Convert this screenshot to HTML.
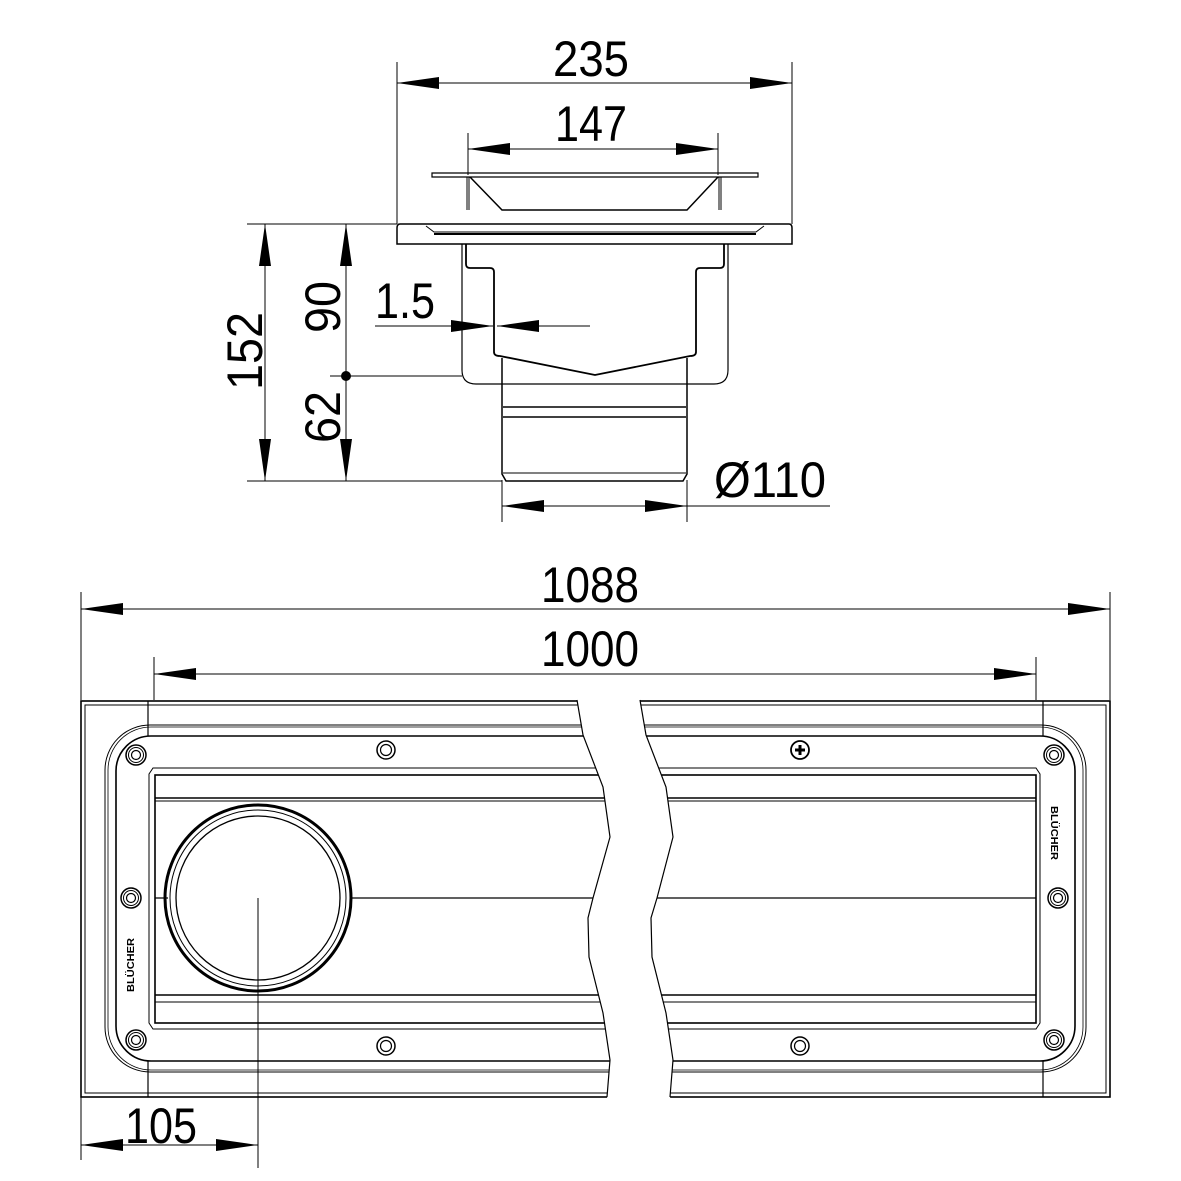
<!DOCTYPE html>
<html><head><meta charset="utf-8"><style>html,body{margin:0;padding:0;background:#fff}svg{display:block}</style></head>
<body>
<svg width="1181" height="1181" viewBox="0 0 1181 1181" xmlns="http://www.w3.org/2000/svg">
<defs>
<g id="scr"><circle r="9" fill="none" stroke="#000" stroke-width="1.5"/><circle r="5.5" fill="none" stroke="#000" stroke-width="1.2"/></g>
<g id="scr3"><circle r="10" fill="none" stroke="#000" stroke-width="1.5"/><circle r="7.5" fill="none" stroke="#000" stroke-width="1"/><circle r="4.5" fill="none" stroke="#000" stroke-width="1.2"/></g>
</defs>
<g font-family="Liberation Sans, sans-serif" font-size="50" fill="#000">
<text x="553" y="76" textLength="76" lengthAdjust="spacingAndGlyphs">235</text>
<text x="555" y="141" textLength="72" lengthAdjust="spacingAndGlyphs">147</text>
<text x="375" y="318" textLength="60" lengthAdjust="spacingAndGlyphs">1.5</text>
<text x="714" y="497" textLength="112" lengthAdjust="spacingAndGlyphs">Ø110</text>
<text x="541" y="602" textLength="98" lengthAdjust="spacingAndGlyphs">1088</text>
<text x="541" y="666" textLength="98" lengthAdjust="spacingAndGlyphs">1000</text>
<text x="125" y="1143" textLength="72" lengthAdjust="spacingAndGlyphs">105</text>
<text transform="translate(262,390) rotate(-90)" textLength="78" lengthAdjust="spacingAndGlyphs">152</text>
<text transform="translate(340,333) rotate(-90)" textLength="52" lengthAdjust="spacingAndGlyphs">90</text>
<text transform="translate(340,443) rotate(-90)" textLength="52" lengthAdjust="spacingAndGlyphs">62</text>
</g>
<g stroke="#000" stroke-width="1" fill="none">
<!-- dimension lines -->
<path d="M397 62V224M792 62V224M397 83H792"/>
<path d="M468 133V175M718 133V175M468 149H718"/>
<path d="M247 224H397M247 481H502M265 224V481M346 224V481M330 376H462"/>
<path d="M375 326H493M497 326H590"/>
<path d="M502 480V522M687 480V522M502 506H830"/>
<path d="M81 592V700M1110 592V700M81 609H1110"/>
<path d="M154 657V700M1036 657V700M154 674H1036"/>
<path d="M81 1097V1160M258 898V1168M81 1145H258"/>
</g>
<g fill="#000">
<path d="M397 83l42-6v12z M792 83l-42-6v12z"/>
<path d="M468 149l42-6v12z M718 149l-42-6v12z"/>
<path d="M265 224l-6 42h12z M265 481l-6-42h12z"/>
<path d="M346 224l-6 42h12z M346 481l-6-42h12z"/>
<circle cx="346" cy="376" r="5"/>
<path d="M493 326l-42-6v12z M497 326l42-6v12z"/>
<path d="M502 506l42-6v12z M687 506l-42-6v12z"/>
<path d="M81 609l42-6v12z M1110 609l-42-6v12z"/>
<path d="M154 674l42-6v12z M1036 674l-42-6v12z"/>
<path d="M81 1145l42-6v12z M258 1145l-42-6v12z"/>
</g>
<!-- top view -->
<g stroke="#000" stroke-width="1.5" fill="none">
<path d="M432 173H758V177H432Z" stroke-width="1.2"/>
<path d="M470 177L502 210H687L718 177"/>
<path d="M469 177V210M719 177V210M467 177V210M721 177V210" stroke-width="1"/>
<path d="M400 224H789Q792 224 792 228V244H397V228Q397 224 400 224Z"/>
<path d="M426 226L434 232H756L764 226" stroke-width="1"/>
<path d="M434 234H756" stroke-width="2"/>
<path d="M462 244V370Q462 384 476 384H714Q728 384 728 370V244" stroke-width="1.2"/>
<path d="M466 244V264Q466 268 470 268H490Q494 268 494 272V352Q494 356 500 356L595 375L690 356Q696 356 696 352V272Q696 268 700 268H720Q724 268 724 264V244" stroke-width="1.8"/>
<path d="M502 358V474L506 481H683L687 474V358" stroke-width="1.5"/>
<path d="M503 407H686M503 417H686" stroke-width="1.5"/>
<path d="M503 473H686" stroke-width="1"/>
</g>
<!-- bottom view -->
<g stroke="#000" fill="none">
<rect x="81" y="701" width="1029" height="396" stroke-width="1.6"/>
<path d="M85 705H1106V1093H85Z" stroke-width="1"/>
<path d="M148 701V736M148 1061V1097M1043 701V736M1043 1061V1097" stroke-width="1.2"/>
<rect x="105" y="725" width="981" height="347" rx="45" stroke-width="1"/>
<rect x="108" y="727" width="975" height="343" rx="43" stroke-width="0.8"/>
<rect x="116" y="736" width="959" height="325" rx="35" stroke-width="1.6"/>
<path d="M149 774V1023L153 1029H1036L1040 1023V774L1036 768H153Z" stroke-width="1"/>
<rect x="155" y="775" width="881" height="248" stroke-width="1.6"/>
<path d="M155 798H1036M155 995H1036" stroke-width="1.6"/>
<path d="M155 801H1036M155 1002H1036" stroke-width="1"/>
<path d="M155 898H168M350 898H1036" stroke-width="1.3"/>
<circle cx="258" cy="898" r="93" stroke-width="3"/>
<circle cx="258" cy="898" r="88" stroke-width="1"/>
<circle cx="258" cy="898" r="82" stroke-width="1.3"/>
<path d="M258 898V1168" stroke-width="1"/>
</g>
<use href="#scr3" x="136" y="755"/><use href="#scr3" x="136" y="1040"/><use href="#scr3" x="131" y="898"/>
<use href="#scr3" x="1054" y="755"/><use href="#scr3" x="1054" y="1040"/><use href="#scr3" x="1058" y="898"/>
<use href="#scr" x="386" y="750"/><use href="#scr" x="386" y="1046"/><use href="#scr" x="800" y="1046"/>
<circle cx="800" cy="750" r="9" fill="none" stroke="#000" stroke-width="1.8"/>
<path d="M800 745V755M795 750H805" stroke="#000" stroke-width="3"/>
<text transform="translate(134,992) rotate(-90)" font-family="Liberation Sans, sans-serif" font-weight="bold" font-size="10" textLength="54" lengthAdjust="spacingAndGlyphs">BLÜCHER</text>
<text transform="translate(1051,806) rotate(90)" font-family="Liberation Sans, sans-serif" font-weight="bold" font-size="10" textLength="54" lengthAdjust="spacingAndGlyphs">BLÜCHER</text>
<!-- break gap -->
<path d="M577 698L583 735L603 787L610 837L593 898L588 918L589 957L603 1013L610 1060L607 1099H670L673 1060L666 1013L652 957L651 918L657 898L673 837L666 787L646 735L640 698Z" fill="#fff" stroke="none"/>
<path d="M577 700L583 735L603 787L610 837L593 898L588 918L589 957L603 1013L610 1060L607 1097" fill="none" stroke="#000" stroke-width="1.2"/>
<path d="M640 700L646 735L666 787L673 837L657 898L651 918L652 957L666 1013L673 1060L670 1097" fill="none" stroke="#000" stroke-width="1.2"/>
</svg>
</body></html>
